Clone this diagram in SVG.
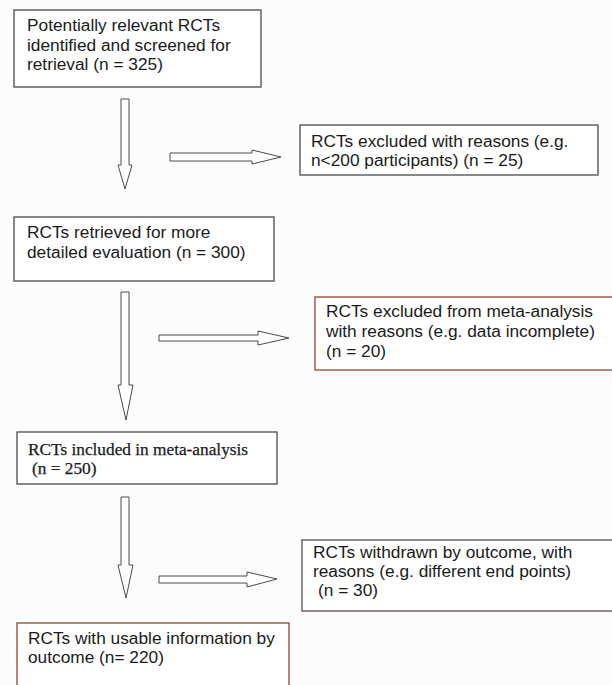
<svg xmlns="http://www.w3.org/2000/svg" width="612" height="685" viewBox="0 0 612 685">
<style>
.box{fill:#ffffff;stroke:#4a4a4a;stroke-width:1.3}
.red{stroke:#8e4534}
.t{font-family:"Liberation Sans",Arial,sans-serif;font-size:17.3px;fill:#1a1a1a}
.s{font-family:"Liberation Serif","Times New Roman",serif;font-size:17.3px;fill:#1a1a1a;stroke:#1a1a1a;stroke-width:0.25}
.arr{fill:#ffffff;stroke:#4a4a4a;stroke-width:1}
</style>
<rect width="612" height="685" fill="#fcfcfc"/>
<g id="connectors">
<path class="arr" d="M121,99 H129 V165 H132 L125,189 L118,165 H121 Z"/>
<path class="arr" d="M170,153 H252 V150 L281,157 L252,164 V161 H170 Z"/>
<path class="arr" d="M121,292 H129 V385 H133 L126,420 L118,385 H121 Z"/>
<path class="arr" d="M159,335 H258 V331 L289,338 L258,345 V341 H159 Z"/>
<path class="arr" d="M121,497 H129 V565 H133 L126,598 L118,565 H121 Z"/>
<path class="arr" d="M159,576 H247 V572 L277,579 L247,587 V583 H159 Z"/>
</g>
<g id="n1">
<rect class="box" x="14" y="10" width="247" height="77"/>
<text class="t" x="27" y="31">Potentially relevant RCTs</text>
<text class="t" x="27" y="51">identified and screened for</text>
<text class="t" x="27" y="70">retrieval (n = 325)</text>
</g>
<g id="n2">
<rect class="box" x="300" y="125" width="298" height="50"/>
<text class="t" x="311" y="147">RCTs excluded with reasons (e.g.</text>
<text class="t" x="311" y="166">n&lt;200 participants) (n = 25)</text>
</g>
<g id="n3">
<rect class="box" x="14" y="217" width="260" height="64"/>
<text class="t" x="27" y="238">RCTs retrieved for more</text>
<text class="t" x="27" y="258">detailed evaluation (n = 300)</text>
</g>
<g id="n4">
<rect class="box red" x="315" y="297" width="305" height="73"/>
<text class="t" x="326" y="317">RCTs excluded from meta-analysis</text>
<text class="t" x="326" y="337">with reasons (e.g. data incomplete)</text>
<text class="t" x="326" y="357">(n = 20)</text>
</g>
<g id="n5">
<rect class="box" x="17" y="432" width="260" height="52"/>
<text class="s" x="28" y="455">RCTs included in meta-analysis</text>
<text class="s" x="32" y="474">(n = 250)</text>
</g>
<g id="n6">
<rect class="box" x="302" y="540" width="320" height="71" style="stroke:#5a4c4a"/>
<text class="t" x="313" y="558">RCTs withdrawn by outcome, with</text>
<text class="t" x="313" y="577">reasons (e.g. different end points)</text>
<text class="t" x="318" y="596">(n = 30)</text>
</g>
<g id="n7">
<rect class="box red" x="17" y="623" width="272" height="80"/>
<text class="t" x="28" y="644">RCTs with usable information by</text>
<text class="t" x="28" y="663">outcome (n= 220)</text>
</g>
</svg>
